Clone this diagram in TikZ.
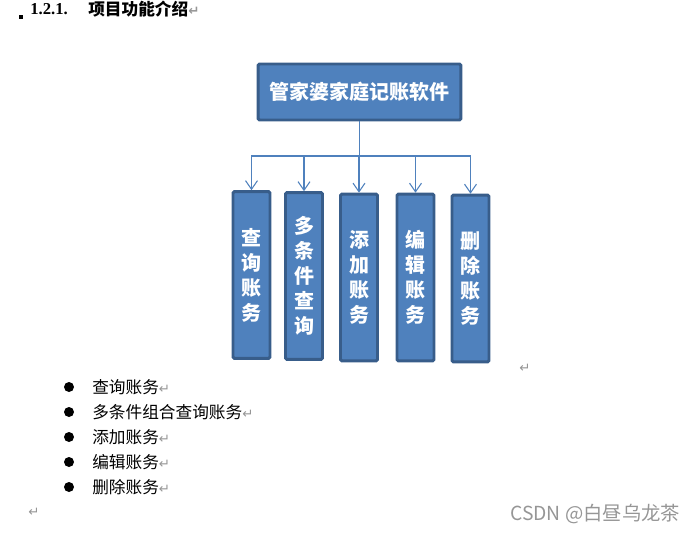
\documentclass[tikz,border=0pt]{standalone}
\usepackage{fontspec}
\setmainfont{Liberation Serif}
\newfontfamily\cjk{Noto Sans CJK SC}
\newfontfamily\symfont{DejaVu Sans}
\usetikzlibrary{arrows.meta}
\definecolor{boxfill}{RGB}{79,129,189}
\definecolor{boxline}{RGB}{56,93,138}
\definecolor{markgray}{RGB}{150,150,150}
\newcommand{\retmark}{{\symfont\color{markgray}\fontsize{10}{10}\selectfont ↵}}

\begin{document}
\begin{tikzpicture}[x=0.75pt,y=0.75pt,yscale=-1,xscale=1,
  topbox/.style={draw=boxline,fill=boxfill,line width=2.2pt,rounded corners=1pt,text=white,inner sep=0pt,minimum width=152pt,minimum height=42pt,font=\cjk\bfseries\fontsize{15}{18}\selectfont},
  funcbox/.style={draw=boxline,fill=boxfill,line width=2.2pt,rounded corners=1pt,text=white,inner sep=0pt,minimum width=27.75pt,minimum height=125pt,align=center,font=\cjk\bfseries\fontsize{15}{18.75}\selectfont},
  conn/.style={draw=boxfill,line width=0.8pt,-{Straight Barb[length=6.5pt,width=9pt]}},
  item/.style={anchor=west,inner sep=0pt,font=\cjk\fontsize{12.5}{15}\selectfont}]
\useasboundingbox (0,0) rectangle (695,533);
%Heading
\fill (19,15) rectangle (23,19) ;
% Text Node
\node[anchor=west,inner sep=0pt,font=\bfseries\fontsize{12.5}{15}\selectfont] (numtxt) at (30,9) {1.2.1.};
% Text Node
\node[anchor=west,inner sep=0pt,font=\cjk\bfseries\fontsize{12.5}{15}\selectfont] (headtxt) at (88,9) {项目功能介绍\retmark};
%Shape: Rectangle
\node[topbox] (top) at (359.5,92) {管家婆家庭记账软件};
%Shape: Rectangle
\node[funcbox] (query) at (251.5,275) {查\\询\\账\\务};
%Shape: Rectangle
\node[funcbox] (multi) at (304,276) {多\\条\\件\\查\\询};
%Shape: Rectangle
\node[funcbox] (add) at (359,277.5) {添\\加\\账\\务};
%Shape: Rectangle
\node[funcbox] (edit) at (415.5,277.5) {编\\辑\\账\\务};
%Shape: Rectangle
\node[funcbox] (del) at (470.5,278.5) {删\\除\\账\\务};
%Connectors
\coordinate (hub) at (359.5,156) ;
\draw[conn] (top.south) -- (hub) -| (query.north) ;
\draw[conn] (top.south) -- (hub) -| (multi.north) ;
\draw[conn] (top.south) -- (hub) -| (add.north) ;
\draw[conn] (top.south) -- (hub) -| (edit.north) ;
\draw[conn] (top.south) -- (hub) -| (del.north) ;
% Text Node
\node[anchor=west,inner sep=0pt] (ret0) at (519,368) {\retmark};
%Bullet list
\fill (69,387) circle (5) ;
\node[item] (item1) at (92,387) {查询账务\retmark};
\fill (69,412) circle (5) ;
\node[item] (item2) at (92,412) {多条件组合查询账务\retmark};
\fill (69,437) circle (5) ;
\node[item] (item3) at (92,437) {添加账务\retmark};
\fill (69,462) circle (5) ;
\node[item] (item4) at (92,462) {编辑账务\retmark};
\fill (69,487) circle (5) ;
\node[item] (item5) at (92,487) {删除账务\retmark};
% Text Node
\node[anchor=west,inner sep=0pt] (ret1) at (28,512) {\retmark};
% Text Node
\node[anchor=west,inner sep=0pt,text=markgray,font=\cjk\fontsize{14.5}{15}\selectfont] (mark) at (510,514) {CSDN @白昼乌龙茶};
\end{tikzpicture}
\end{document}
